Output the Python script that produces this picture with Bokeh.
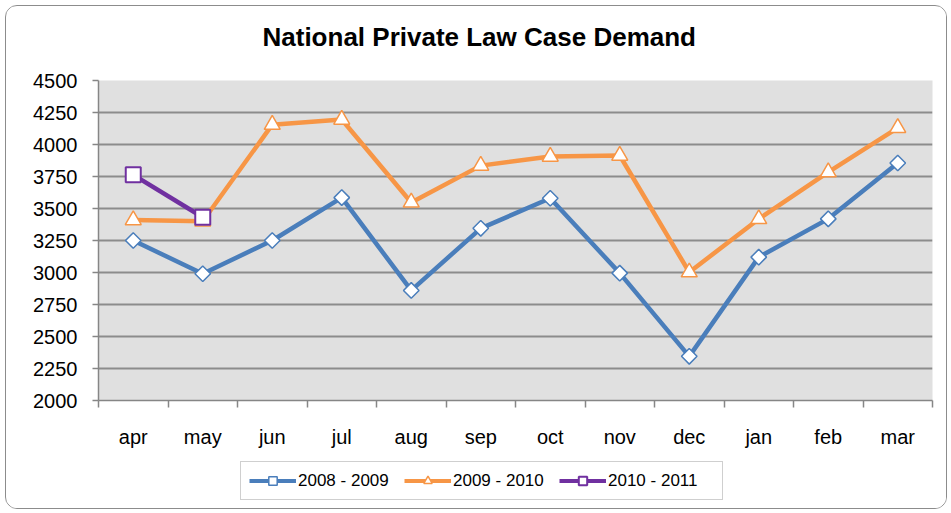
import numpy as np
from bokeh.plotting import figure
from bokeh.layouts import column
from bokeh.models import FixedTicker, Legend, LegendItem, Range1d, Title
from bokeh.embed import file_html
from bokeh.resources import INLINE

months = ["apr", "may", "jun", "jul", "aug", "sep", "oct", "nov", "dec", "jan", "feb", "mar"]
s2008 = [3250, 2990, 3250, 3585, 2860, 3345, 3580, 2995, 2345, 3120, 3419, 3855]
s2009 = [3410, 3400, 4155, 4195, 3547, 3835, 3906, 3914, 3002, 3418, 3784, 4130]
s2010 = [3763, 3432]
yticks = [2000, 2250, 2500, 2750, 3000, 3250, 3500, 3750, 4000, 4250, 4500]
series_labels = ["2008 - 2009", "2009 - 2010", "2010 - 2011"]
title_text = "National Private Law Case Demand"

FONT = "Liberation Sans"
BLUE = "#4A7EBB"
ORANGE = "#F79646"
PURPLE = "#7030A0"
x_all = np.arange(len(months)) + 0.5

p = figure(width=940, height=452, output_backend="svg", toolbar_location=None,
           x_range=Range1d(0, len(months)), y_range=Range1d(2000, 4500),
           min_border_left=92, min_border_right=14, min_border_top=74, min_border_bottom=58,
           frame_width=834, frame_height=320)

p.background_fill_color = "#E0E0E0"
p.border_fill_color = "white"
p.outline_line_color = None

p.title.text = ""
p.title.standoff = 0
spacer = Title(text=" ", text_font_size="1px", standoff=26)
p.add_layout(spacer, "above")
main_title = Title(text=title_text, text_font=FONT, text_font_size="26px",
                   text_font_style="bold", text_color="black", align="left",
                   offset=164, standoff=0)
p.add_layout(main_title, "above")

# x axis
p.xaxis.ticker = FixedTicker(ticks=list(x_all), minor_ticks=list(range(len(months) + 1)))
p.xaxis.major_label_overrides = {float(x): m for x, m in zip(x_all, months)}
p.xaxis.major_tick_out = 0
p.xaxis.major_tick_in = 0
p.xaxis.minor_tick_out = 7
p.xaxis.minor_tick_in = 0
p.xaxis.minor_tick_line_color = "#868686"
p.xaxis.minor_tick_line_width = 1.5
p.xaxis.axis_line_color = "#868686"
p.xaxis.axis_line_width = 1.5
p.xaxis.major_label_standoff = 18
p.xaxis.major_label_text_font = FONT
p.xaxis.major_label_text_font_size = "20px"
p.xaxis.major_label_text_color = "black"
p.xgrid.grid_line_color = None

# y axis
p.yaxis.ticker = FixedTicker(ticks=yticks, minor_ticks=[])
p.yaxis.major_tick_out = 6
p.yaxis.major_tick_in = 0
p.yaxis.major_tick_line_color = "#868686"
p.yaxis.major_tick_line_width = 1.5
p.yaxis.axis_line_color = "#868686"
p.yaxis.axis_line_width = 1.5
p.yaxis.major_label_standoff = 15
p.yaxis.major_label_text_font = FONT
p.yaxis.major_label_text_font_size = "20px"
p.yaxis.major_label_text_color = "black"
p.ygrid.grid_line_color = "#8C8C8C"
p.ygrid.grid_line_width = 2

line_kw = dict(line_width=4.5)
mk = [
    dict(marker="square", angle=np.pi / 4, size=11, fill_color="white", line_color=BLUE, line_width=1.5),
    dict(marker="triangle", size=16, fill_color="white", line_color=ORANGE, line_width=1.5),
    dict(marker="square", size=15, fill_color="white", line_color=PURPLE, line_width=2),
]
colors = [BLUE, ORANGE, PURPLE]
series = [s2008, s2009, s2010]

for vals, c, m in zip(series, colors, mk):
    xs = x_all[:len(vals)]
    p.line(xs, vals, line_color=c, **line_kw)
    p.scatter(xs, vals, **m)

# legend strip below the chart (its series lie outside its own view, only the key shows)
lg = figure(width=940, height=50, output_backend="svg", toolbar_location=None,
            x_range=Range1d(0, 1), y_range=Range1d(0, 1),
            x_axis_type=None, y_axis_type=None,
            min_border_left=0, min_border_right=0, min_border_top=0, min_border_bottom=0,
            frame_width=940, frame_height=50)
lg.outline_line_color = None
lg.background_fill_color = "white"
lg.border_fill_color = "white"
lg.xgrid.grid_line_color = None
lg.ygrid.grid_line_color = None

items = []
for lab, vals, c, m in zip(series_labels, series, colors, mk):
    xs = x_all[:len(vals)]
    r1 = lg.line(xs, vals, line_color=c, line_width=4)
    mm = dict(m)
    mm["size"] = max(7, mm["size"] - 6)
    r2 = lg.scatter(xs, vals, **mm)
    items.append(LegendItem(label=lab, renderers=[r1, r2], index=0))

legend = Legend(items=items, orientation="horizontal", location=(234, 8))
legend.glyph_width = 47
legend.glyph_height = 21
legend.label_height = 21
legend.label_width = 106
legend.label_standoff = 2
legend.spacing = 0
legend.padding = 8
legend.margin = 0
legend.label_text_font = FONT
legend.label_text_font_size = "17px"
legend.label_text_color = "black"
legend.border_line_color = "#A0A0A0"
legend.border_line_width = 1.5
legend.background_fill_color = "white"
legend.background_fill_alpha = 1
lg.add_layout(legend, "center")

layout = column(p, lg, spacing=0)
layout.styles = {"border": "1.5px solid #8c8c8c", "border-radius": "12px", "margin": "5px",
                 "overflow": "hidden", "background": "white"}

open("out.html", "w").write(file_html(layout, INLINE))
